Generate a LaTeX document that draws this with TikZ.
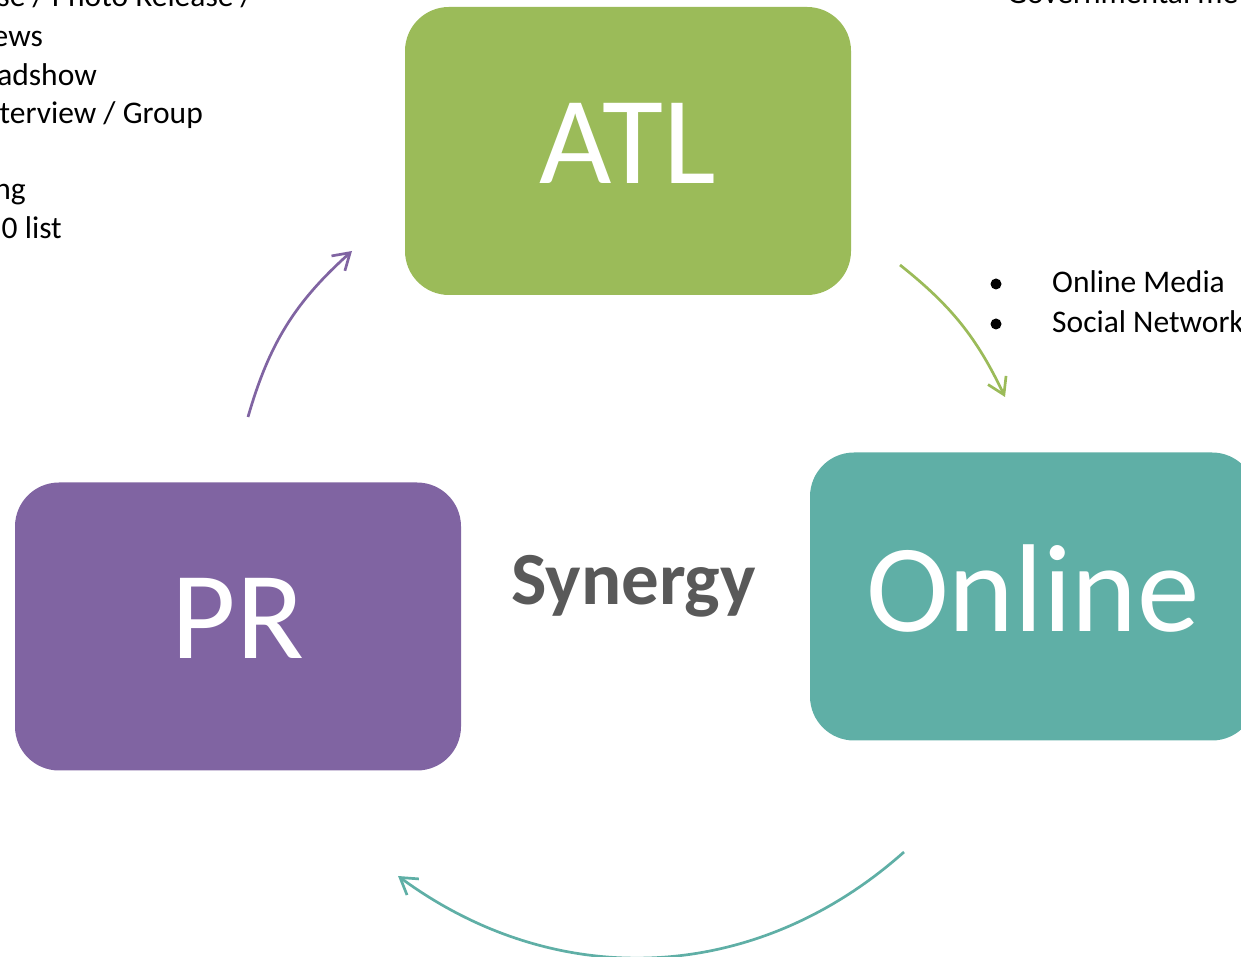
\documentclass[tikz,border=0pt]{standalone}
\usepackage{fontspec}
\setmainfont{Carlito}
\usetikzlibrary{arrows.meta,positioning}
\definecolor{atlgreen}{HTML}{9BBB59}
\definecolor{onlineteal}{HTML}{5FAFA6}
\definecolor{prpurple}{HTML}{8064A2}
\definecolor{synergygray}{HTML}{595959}
\tikzset{
  box/.style={rounded corners=44pt, minimum width=446pt, minimum height=288pt, inner sep=0pt, text depth=16pt, text=white, font=\fontsize{125}{132}\selectfont},
  cyclearrow/.style={-{Straight Barb[length=16pt,width=20pt]}, line width=2.7pt},
  listtext/.style={inner sep=0pt, font=\fontsize{31.5}{38}\selectfont},
  dot/.style={circle, fill=black, minimum size=11pt, inner sep=0pt}
}

\begin{document}
\begin{tikzpicture}[x=1pt, y=1pt]
\useasboundingbox (0,0) rectangle (1241,957);
\clip (0,0) rectangle (1241,957);
% the three channels
\node[box, fill=atlgreen] (atl) at (628,806) {ATL};
\node[box, fill=onlineteal] (online) at (1033,360.5) {Online};
\node[box, fill=prpurple] (pr) at (238,330.5) {PR};
\node[anchor=base, text=synergygray, font=\bfseries\fontsize{75}{82}\selectfont] (synergy) at (633.5,352) {Synergy};
% cycle arrows
\coordinate (pr-tail) at (248,540);
\coordinate (atl-head) at (352,706);
\coordinate (atl-tail) at (900,692);
\coordinate (online-head) at (1005,560);
\coordinate (online-tail) at (904,105);
\coordinate (pr-head) at (398,81);
\draw[cyclearrow, prpurple] (pr-tail) to[bend left=16] (atl-head);
\draw[cyclearrow, atlgreen] (atl-tail) to[bend left=13] (online-head);
\draw[cyclearrow, onlineteal] (online-tail) to[bend left=39] (pr-head);
% PR list (cut at the left edge)
\node[listtext, anchor=base east] (pr1) at (253,950) {se / Photo Release /};
\node[listtext, anchor=base east] (pr2) at (43,910) {ews};
\node[listtext, anchor=base east] (pr3) at (97,871) {adshow};
\node[listtext, anchor=base east] (pr4) at (203,833) {terview / Group};
\node[listtext, anchor=base east] (pr5) at (26,757) {ng};
\node[listtext, anchor=base east] (pr6) at (62,718) {0 list};
% ATL list (cut at the top)
\node[listtext, anchor=base west] (atl1) at (1007,953) {Governmental me};
% Online list
\node[listtext, anchor=base west] (media) at (1052,664) {Online Media};
\node[listtext, anchor=base west] (social) at (1052,624) {Social Network};
\node[dot] (dot1) at (996,673) {};
\node[dot] (dot2) at (996,633) {};
\end{tikzpicture}
\end{document}
